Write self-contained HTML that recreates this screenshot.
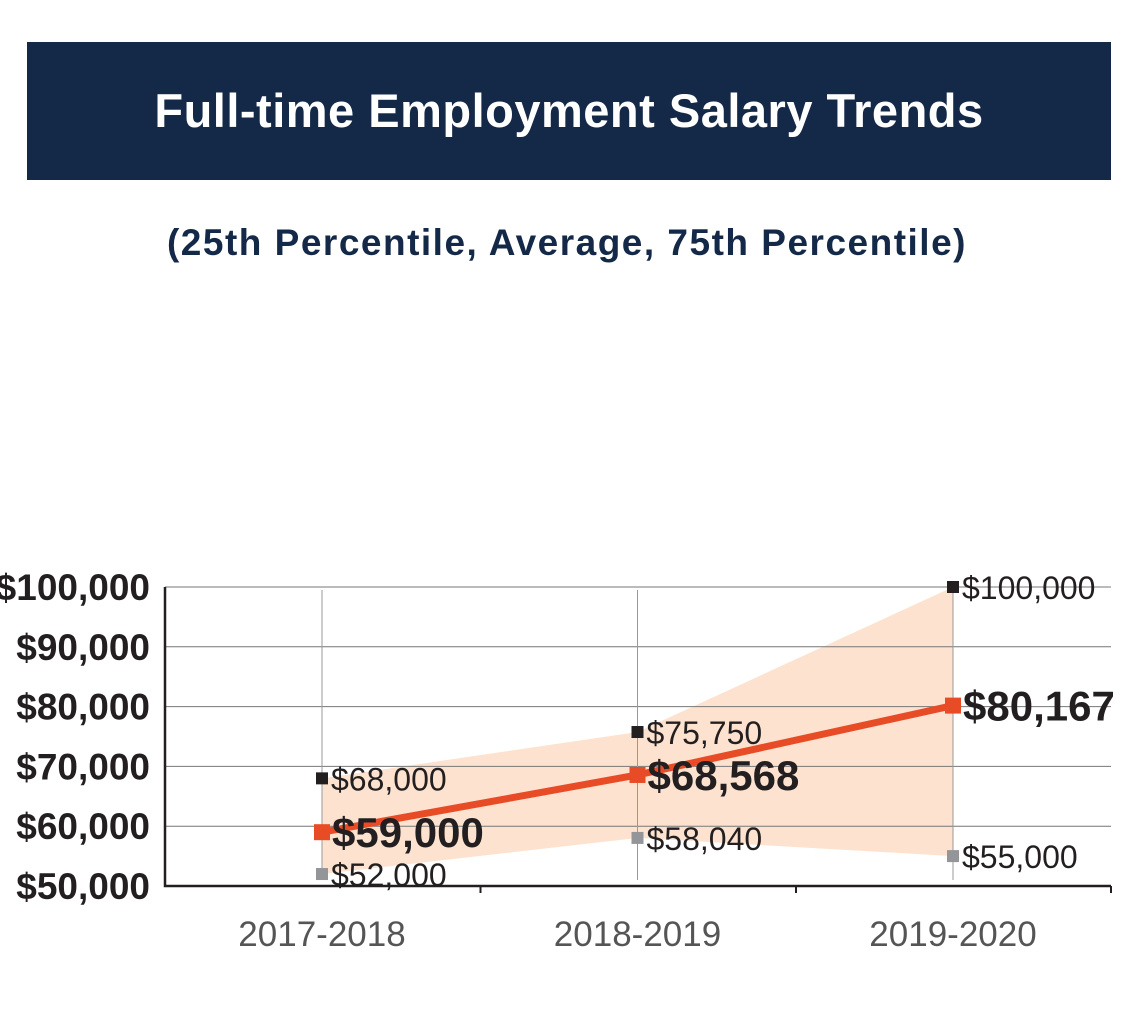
<!DOCTYPE html>
<html><head><meta charset="utf-8">
<style>
body{margin:0;background:#fff;width:1134px;height:1023px;overflow:hidden;font-family:"Liberation Sans",sans-serif;}
#hdr{position:absolute;left:27px;top:42px;width:1084px;height:138px;background:#142848;color:#fff;font-weight:bold;font-size:47px;text-align:center;line-height:138px;letter-spacing:0.5px}
#sub{position:absolute;left:0;top:222px;width:1134px;text-align:center;color:#142848;font-weight:bold;font-size:37px;letter-spacing:1.5px}
svg{position:absolute;left:0;top:0}
.n{font-family:"Liberation Sans Narrow","Liberation Sans",sans-serif}
</style></head><body>
<div id="hdr">Full-time Employment Salary Trends</div>
<div id="sub">(25th Percentile, Average, 75th Percentile)</div>
<svg id="chart" width="1134" height="1023"></svg>
<script>
const categories=["2017-2018","2018-2019","2019-2020"];
const p25=[52000,58040,55000];
const avg=[59000,68568,80167];
const p75=[68000,75750,100000];
const yTicks=[50000,60000,70000,80000,90000,100000];
const svg=document.getElementById('chart');
const NS='http://www.w3.org/2000/svg';
const L=165,R=1111,T=587,B=886;
const y=v=>B-(v-50000)/50000*(B-T);
const x=i=>322+i*315.5;
const fmt=v=>'$'+v.toLocaleString('en-US');
function mk(t,a,txt){const e=document.createElementNS(NS,t);for(const k in a)e.setAttribute(k,a[k]);if(txt!=null)e.textContent=txt;svg.appendChild(e);return e;}
yTicks.forEach(v=>{
 const g=mk('line',{x1:L,x2:R,y1:y(v),y2:y(v),stroke:'#777','stroke-width':1});
 
 
 const t=mk('text',{x:150,y:y(v)+13,'text-anchor':'end','font-size':37,'font-weight':'bold',fill:'#231f20',class:'n'},fmt(v));
 
 
});
categories.forEach((c,i)=>{
 const g=mk('line',{x1:x(i),x2:x(i),y1:590,y2:880,stroke:'#999','stroke-width':1});
 
 
 const t=mk('text',{x:x(i),y:946,'text-anchor':'middle','font-size':35,fill:'#555',class:'n'},c);
 
 
});
let pts=categories.map((c,i)=>x(i)+','+y(p75[i])).concat(categories.map((c,i)=>x(i)+','+y(p25[i])).reverse());
const band=mk('polygon',{points:pts.join(' '),fill:'#fde3cf'});


svg.insertBefore(band,svg.firstChild);
const ax=mk('polyline',{points:`${L},${T} ${L},${B} ${R},${B}`,fill:'none',stroke:'#231f20','stroke-width':2.5});


[L+315.5,L+631,R].forEach(tx=>{const t=mk('line',{x1:tx,x2:tx,y1:B,y2:B+7,stroke:'#231f20','stroke-width':2});
 
 });
const ln=mk('polyline',{points:avg.map((v,i)=>x(i)+','+y(v)).join(' '),fill:'none',stroke:'#e84c26','stroke-width':7});


categories.forEach((c,i)=>{
 const a=mk('rect',{x:x(i)-6,y:y(p75[i])-6,width:12,height:12,fill:'#231f20'});
 
 
 const b=mk('rect',{x:x(i)-6,y:y(p25[i])-6,width:12,height:12,fill:'#939598'});
 
 
 const m=mk('rect',{x:x(i)-8,y:y(avg[i])-8,width:16,height:16,fill:'#e84c26'});
 
 
 const t1=mk('text',{x:x(i)+9,y:y(p75[i])+12,'font-size':32,fill:'#231f20',class:'n','font-weight':'300'},fmt(p75[i]));
 
 
 const t2=mk('text',{x:x(i)+9,y:y(p25[i])+12,'font-size':32,fill:'#231f20',class:'n'},fmt(p25[i]));
 
 
 const t3=mk('text',{x:x(i)+10,y:y(avg[i])+15,'font-size':42,'font-weight':'bold',fill:'#231f20',class:'n'},fmt(avg[i]));
 
 
});
</script>
</body></html>
